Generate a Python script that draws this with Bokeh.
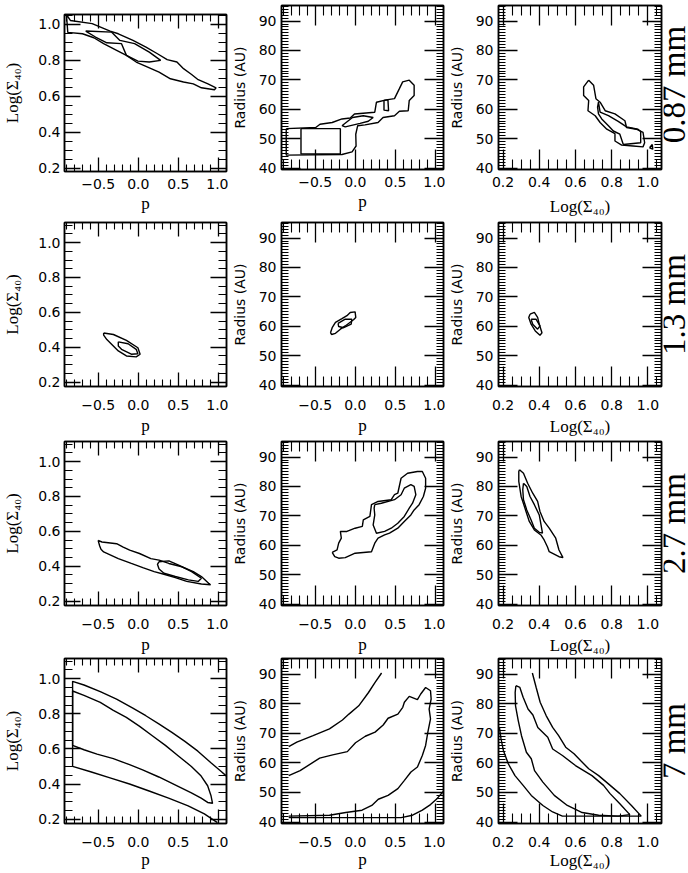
from bokeh.plotting import figure
from bokeh.models import Range1d, LinearAxis, FixedTicker, Spacer
from bokeh.core.properties import value
from bokeh.layouts import row, column
from bokeh.embed import file_html
from bokeh.resources import INLINE

# ---------------- ticks and labels ----------------
P_TICKS = [-0.5, 0.0, 0.5, 1.0]
P_LABELS = ["\u22120.5", "0.0", "0.5", "1.0"]
P_MINOR = [-0.9, -0.8, -0.7, -0.6, -0.4, -0.3, -0.2, -0.1, 0.1, 0.2, 0.3, 0.4,
           0.6, 0.7, 0.8, 0.9, 1.1]
SIG_TICKS = [0.2, 0.4, 0.6, 0.8, 1.0]
SIG_LABELS = ["0.2", "0.4", "0.6", "0.8", "1.0"]
SIG_MINOR = [0.15, 0.25, 0.3, 0.35, 0.45, 0.5, 0.55, 0.65, 0.7, 0.75, 0.85, 0.9,
             0.95, 1.05, 1.1]
R_TICKS = [40, 50, 60, 70, 80, 90]
R_LABELS = ["40", "50", "60", "70", "80", "90"]
R_MINOR = [v for v in range(39, 96)]
WAVELENGTHS = ["0.87 mm", "1.3 mm", "2.7 mm", "7 mm"]
P_TITLE = "p"
SIG_TITLE = "Log(\u03a3\u2084\u2080)"
R_TITLE = "Radius (AU)"

# ---------------- contour data ----------------
# 0.87 mm : p vs Log(Sigma40)
W087_PS_OUT_X = [-0.896, -0.847, -0.575, -0.351, -0.249, -0.066, 0.096, 0.239, 0.36, 0.482, 0.564,
                 0.665, 0.747, 0.869, 0.97, 0.95, 0.787, 0.686, 0.564, 0.401, 0.259, 0.096, -0.026,
                 -0.148, -0.27, -0.432, -0.554, -0.696, -0.879, -0.896]
W087_PS_OUT_Y = [1.055, 1.022, 1.004, 0.963, 0.948, 0.911, 0.874, 0.837, 0.804, 0.791, 0.754,
                 0.722, 0.693, 0.670, 0.648, 0.637, 0.648, 0.670, 0.680, 0.698, 0.735, 0.767, 0.791,
                 0.828, 0.856, 0.893, 0.926, 0.948, 0.956, 1.055]
W087_PS_IN_X = [-0.656, -0.331, -0.229, -0.046, 0.137, 0.279, 0.137, -0.005, -0.148, -0.209, -0.392,
                -0.534, -0.656]
W087_PS_IN_Y = [0.963, 0.957, 0.911, 0.893, 0.846, 0.80, 0.791, 0.796, 0.828, 0.893, 0.898,
                0.930, 0.963]
# 0.87 mm : p vs Radius
W087_PR_OUT_X = [-0.861, -0.493, -0.44, -0.288, -0.166, -0.063, -0.01, 0.243, 0.264, 0.386, 0.489,
                 0.55, 0.591, 0.673, 0.734, 0.734, 0.673, 0.66, 0.55, 0.489, 0.346, 0.284, 0.121,
                 0.03, 0.006, 0.01, -0.04, -0.166, -0.861, -0.861]
W087_PR_OUT_Y = [53.4, 53.8, 54.9, 55.5, 56.7, 57.0, 58.4, 59.0, 62.4, 63.2, 63.6,
                 67.0, 69.3, 69.9, 68.2, 64.7, 63.0, 59.5, 59.3, 57.8, 57.2, 55.5, 54.7,
                 54.4, 51.5, 47.5, 45.5, 44.6, 44.4, 53.4]
W087_PR_INA_X = [-0.677, -0.186, -0.186, -0.677, -0.677]
W087_PR_INA_Y = [53.4, 53.4, 44.8, 44.8, 53.4]
W087_PR_INB_X = [-0.166, -0.035, 0.1, 0.223, 0.162, 0.06, -0.125, -0.166]
W087_PR_INB_Y = [54.4, 57.2, 57.8, 57.2, 55.9, 55.2, 54.0, 54.4]
W087_PR_INC_X = [0.358, 0.407, 0.415, 0.358, 0.358]
W087_PR_INC_Y = [63.0, 63.2, 59.5, 59.7, 63.0]
# 0.87 mm : Log(Sigma40) vs Radius
W087_SR_OUT_X = [0.673, 0.70, 0.713, 0.736, 0.764, 0.818, 0.873, 0.882, 0.936, 0.973, 0.982, 0.973,
                 0.918, 0.855, 0.818, 0.818, 0.773, 0.736, 0.709, 0.669, 0.673, 0.645, 0.645, 0.673]
W087_SR_OUT_Y = [69.9, 68.2, 63.6, 62.4, 59.5, 58.4, 56.1, 53.8, 53.2, 52.1, 48.6, 47.2,
                 47.5, 47.8, 49.2, 51.7, 53.2, 55.5, 57.8, 59.5, 63.0, 64.7, 67.6, 69.9]
W087_SR_IN_X = [0.727, 0.736, 0.782, 0.836, 0.882, 0.945, 0.96, 0.96, 0.864, 0.845, 0.809, 0.782,
                0.745, 0.727, 0.722, 0.727]
W087_SR_IN_Y = [62.4, 59.0, 57.8, 55.9, 54.0, 53.2, 52.4, 48.6, 48.0, 51.5, 52.6, 54.4,
                56.7, 58.4, 60.7, 62.4]
W087_SR_TRI_X = [1.009, 1.024, 1.027, 1.009]
W087_SR_TRI_Y = [46.9, 48.0, 46.4, 46.9]

# 1.3 mm
W13_PS_OUT_X = [-0.432, -0.31, -0.148, -0.005, 0.023, -0.026, -0.148, -0.249, -0.392, -0.432, -0.432]
W13_PS_OUT_Y = [0.482, 0.473, 0.439, 0.397, 0.36, 0.345, 0.35, 0.379, 0.444, 0.469, 0.482]
W13_PS_IN_X = [-0.249, -0.127, -0.026, -0.005, -0.087, -0.209, -0.249, -0.249]
W13_PS_IN_Y = [0.431, 0.42, 0.388, 0.363, 0.36, 0.388, 0.407, 0.431]
W13_PR_OUT_X = [-0.309, -0.288, -0.247, -0.166, -0.104, -0.063, -0.002, 0.006, -0.022, -0.125,
                -0.186, -0.247, -0.296, -0.309]
W13_PR_OUT_Y = [57.8, 59.5, 61.3, 62.6, 63.6, 64.7, 64.9, 63.0, 62.2, 60.1,
                59.0, 57.6, 57.2, 57.8]
W13_PR_IN_X = [-0.215, -0.125, -0.043, -0.051, -0.145, -0.207, -0.215]
W13_PR_IN_Y = [61.0, 62.4, 62.4, 60.7, 59.5, 59.9, 61.0]
W13_SR_OUT_X = [0.349, 0.373, 0.391, 0.40, 0.415, 0.404, 0.378, 0.355, 0.342, 0.349]
W13_SR_OUT_Y = [64.1, 64.7, 63.0, 60.7, 57.8, 56.9, 58.4, 60.7, 63.0, 64.1]
W13_SR_IN_X = [0.355, 0.382, 0.404, 0.391, 0.364, 0.355]
W13_SR_IN_Y = [62.4, 62.4, 60.1, 59.0, 60.7, 62.4]

# 2.7 mm
W27_PS_OUT_X = [-0.501, -0.453, -0.27, -0.188, -0.107, 0.015, 0.157, 0.259, 0.381, 0.543, 0.686,
                0.787, 0.877, 0.901, 0.787, 0.604, 0.462, 0.32, 0.198, 0.056, -0.087, -0.249,
                -0.432, -0.465, -0.481, -0.501]
W27_PS_OUT_Y = [0.548, 0.539, 0.529, 0.51, 0.492, 0.473, 0.444, 0.435, 0.416, 0.397, 0.369,
                0.341, 0.303, 0.294, 0.298, 0.313, 0.335, 0.354, 0.369, 0.392, 0.416, 0.444,
                0.482, 0.497, 0.516, 0.548]
W27_PS_IN_X = [0.259, 0.381, 0.503, 0.665, 0.787, 0.747, 0.625, 0.462, 0.32, 0.259, 0.239, 0.259]
W27_PS_IN_Y = [0.426, 0.431, 0.407, 0.369, 0.331, 0.313, 0.322, 0.341, 0.36, 0.384, 0.411, 0.426]
W27_PR_OUT_X = [-0.288, -0.227, -0.207, -0.174, -0.186, -0.104, -0.002, 0.088, 0.1, 0.182, 0.202,
                0.284, 0.448, 0.489, 0.53, 0.571, 0.652, 0.775, 0.836, 0.877, 0.877, 0.849, 0.796,
                0.734, 0.693, 0.611, 0.53, 0.427, 0.366, 0.284, 0.243, 0.202, -0.002, -0.125,
                -0.207, -0.256, -0.288]
W27_PR_OUT_Y = [57.6, 58.4, 60.7, 62.4, 64.7, 64.7, 65.8, 66.4, 68.6, 69.8, 73.8,
                74.9, 75.5, 77.2, 77.7, 82.8, 84.5, 85.1, 85.1, 82.8, 79.4, 76.6, 73.8,
                72.0, 70.3, 68.1, 65.8, 64.1, 63.5, 62.4, 60.7, 57.8, 57.3, 55.8,
                55.6, 56.1, 57.6]
W27_PR_IN_X = [0.243, 0.325, 0.489, 0.571, 0.591, 0.611, 0.693, 0.734, 0.755, 0.714, 0.673, 0.611,
               0.53, 0.448, 0.366, 0.264, 0.223, 0.243, 0.235, 0.243]
W27_PR_IN_Y = [73.8, 74.3, 75.5, 77.2, 78.3, 79.4, 80.6, 80.0, 77.2, 74.3, 72.6, 69.8,
               67.5, 65.8, 64.7, 64.1, 66.9, 70.3, 72.6, 73.8]
W27_SR_OUT_X = [0.291, 0.313, 0.336, 0.364, 0.391, 0.404, 0.427, 0.455, 0.491, 0.509, 0.531, 0.509,
                0.455, 0.445, 0.427, 0.409, 0.373, 0.345, 0.327, 0.30, 0.287, 0.287, 0.291]
W27_SR_OUT_Y = [85.7, 84.5, 81.1, 77.7, 74.9, 71.5, 68.1, 65.8, 62.4, 58.4, 55.8, 56.1,
                57.8, 59.5, 61.8, 63.5, 65.2, 68.1, 71.5, 76.6, 81.7, 85.1, 85.7]
W27_SR_IN_X = [0.313, 0.331, 0.349, 0.373, 0.40, 0.418, 0.40, 0.373, 0.355, 0.331, 0.313, 0.309, 0.313]
W27_SR_IN_Y = [81.1, 80.0, 76.6, 73.8, 70.3, 64.1, 64.4, 65.8, 68.6, 72.0, 75.5, 78.9, 81.1]

# 7 mm
W7_PS_OUT_X = [1.1, 1.027, 0.906, 0.743, 0.581, 0.419, 0.256, 0.094, -0.068, -0.271, -0.474, -0.677,
               -0.819, -0.819, -0.595, -0.352, -0.109, 0.135, 0.378, 0.622, 0.824, 0.987]
W7_PS_OUT_Y = [0.445, 0.474, 0.521, 0.587, 0.643, 0.694, 0.743, 0.789, 0.832, 0.883, 0.926, 0.964,
               0.985, 0.50, 0.47, 0.435, 0.40, 0.36, 0.32, 0.275, 0.23, 0.18]
W7_PS_IN_X = [-0.819, -0.677, -0.474, -0.311, -0.149, 0.013, 0.175, 0.338, 0.5, 0.662, 0.784, 0.865,
              0.906, 0.926, 0.865, 0.784, 0.662, 0.459, 0.256, 0.054, -0.109, -0.311, -0.514,
              -0.677, -0.819, -0.819]
W7_PS_IN_Y = [0.93, 0.905, 0.865, 0.82, 0.78, 0.73, 0.675, 0.62, 0.56, 0.50, 0.445, 0.39,
              0.335, 0.29, 0.295, 0.32, 0.35, 0.395, 0.44, 0.48, 0.51, 0.545, 0.57,
              0.595, 0.62, 0.93]
W7_PR_A_X = [-0.83, -0.729, -0.526, -0.322, -0.16, -0.079, 0.043, 0.165, 0.247, 0.328]
W7_PR_A_Y = [65.5, 67.0, 69.2, 71.5, 74.5, 76.5, 79.3, 83.8, 87.2, 90.4]
W7_PR_B_X = [-0.83, -0.688, -0.444, -0.282, -0.099, 0.003, 0.125, 0.247, 0.348, 0.409, 0.531, 0.592,
             0.612, 0.673, 0.775, 0.816, 0.877, 0.938, 0.946, 0.921, 0.938, 0.905, 0.877, 0.836,
             0.775, 0.694, 0.613, 0.531, 0.409, 0.287, 0.206, 0.084, -0.119, -0.322, -0.83]
W7_PR_B_Y = [55.7, 57.4, 61.6, 62.7, 63.8, 66.8, 69.0, 70.4, 72.8, 75.1, 76.5, 78.8,
             80.5, 82.5, 81.4, 83.3, 85.5, 84.4, 81.6, 78.2, 74.9, 70.4, 65.9, 62.5,
             58.6, 56.9, 54.1, 51.3, 49.0, 47.7, 45.6, 44.0, 43.2, 42.3, 42.0]
W7_PR_C_X = [-0.83, 0.572, 0.714, 0.836, 0.938, 1.019, 1.1]
W7_PR_C_Y = [41.5, 41.5, 42.3, 44.0, 45.9, 47.9, 50.4]
W7_SR_OUT_X = [0.362, 0.383, 0.405, 0.438, 0.474, 0.507, 0.546, 0.592, 0.628, 0.673, 0.728, 0.782,
               0.845, 0.909, 0.963, 0.528, 0.474, 0.42, 0.356, 0.311, 0.266, 0.229, 0.202, 0.189, 0.18]
W7_SR_OUT_Y = [90.4, 85.5, 80.5, 76.0, 72.0, 69.2, 65.3, 63.1, 60.8, 58.0, 55.7, 52.9,
               49.6, 45.6, 42.0, 42.0, 43.4, 45.6, 49.0, 52.4, 55.7, 59.7, 64.2, 68.1, 72.0]
W7_SR_IN_X = [0.271, 0.293, 0.311, 0.338, 0.365, 0.392, 0.447, 0.474, 0.528, 0.6, 0.691, 0.755,
              0.791, 0.845, 0.9, 0.836, 0.728, 0.637, 0.555, 0.483, 0.42, 0.374, 0.356, 0.329,
              0.302, 0.284, 0.269, 0.267, 0.271]
W7_SR_IN_Y = [86.1, 85.5, 82.2, 78.2, 76.2, 72.0, 68.7, 64.7, 62.5, 59.1, 55.7, 52.4,
              49.6, 46.2, 42.5, 42.0, 42.3, 43.2, 45.6, 49.0, 53.5, 57.4, 61.4, 63.6,
              69.2, 74.3, 79.3, 83.8, 86.1]

PANELS = [
    [([W087_PS_OUT_X, W087_PS_IN_X], [W087_PS_OUT_Y, W087_PS_IN_Y]),
     ([W087_PR_OUT_X, W087_PR_INA_X, W087_PR_INB_X, W087_PR_INC_X],
      [W087_PR_OUT_Y, W087_PR_INA_Y, W087_PR_INB_Y, W087_PR_INC_Y]),
     ([W087_SR_OUT_X, W087_SR_IN_X, W087_SR_TRI_X], [W087_SR_OUT_Y, W087_SR_IN_Y, W087_SR_TRI_Y])],
    [([W13_PS_OUT_X, W13_PS_IN_X], [W13_PS_OUT_Y, W13_PS_IN_Y]),
     ([W13_PR_OUT_X, W13_PR_IN_X], [W13_PR_OUT_Y, W13_PR_IN_Y]),
     ([W13_SR_OUT_X, W13_SR_IN_X], [W13_SR_OUT_Y, W13_SR_IN_Y])],
    [([W27_PS_OUT_X, W27_PS_IN_X], [W27_PS_OUT_Y, W27_PS_IN_Y]),
     ([W27_PR_OUT_X, W27_PR_IN_X], [W27_PR_OUT_Y, W27_PR_IN_Y]),
     ([W27_SR_OUT_X, W27_SR_IN_X], [W27_SR_OUT_Y, W27_SR_IN_Y])],
    [([W7_PS_OUT_X, W7_PS_IN_X], [W7_PS_OUT_Y, W7_PS_IN_Y]),
     ([W7_PR_A_X, W7_PR_B_X, W7_PR_C_X], [W7_PR_A_Y, W7_PR_B_Y, W7_PR_C_Y]),
     ([W7_SR_OUT_X, W7_SR_IN_X], [W7_SR_OUT_Y, W7_SR_IN_Y])],
]

# ---------------- layout / style ----------------
ROW_H = [218, 220, 219, 215]
ROW_TOP = [5, 4, 3, 1]
ROW_BOT = [47, 50, 50, 48]
FIRST_PANEL_DROP = 9
XTICK_SO = [7, 13, 13, 13]
P_TITLE_SO = [2, 3, 3, 0]
SIG_XTITLE_SO = [7, 4, 4, 1]
LAB_YMID = [0.518, 0.5, 0.5, 0.5]
LAB_X = 0.43
LAB_SIZE = "33px"
COL_W = [228, 217, 218]
COL_L = [60, 50, 50]
COL_R = [2, 2, 2]
LAB_W = 25
P_RANGE = (-0.92, 1.1)
SIGX_RANGE = (0.175, 1.075)
SIGY_RANGE_ROW1 = (0.183, 1.055)
SIGY_RANGE = (0.175, 1.115)
R_RANGE = (39.5, 95.3)
TICK_FONT = "DejaVu Sans"
SERIF = "Liberation Serif"


def add_axis(fig, side, ticks, labels, minor, major_in, minor_in, shown,
             title=None, title_font=SERIF, title_size="17px", tick_standoff=4, title_standoff=4):
    ax = LinearAxis(ticker=FixedTicker(ticks=ticks, minor_ticks=minor),
                    major_tick_in=major_in, major_tick_out=0,
                    minor_tick_in=minor_in, minor_tick_out=0,
                    axis_line_color="black", axis_line_width=1.5,
                    major_tick_line_color="black", major_tick_line_width=1.3,
                    minor_tick_line_color="black", minor_tick_line_width=1.1)
    if shown:
        ax.major_label_overrides = dict(zip(ticks, labels))
        ax.major_label_text_font = TICK_FONT
        ax.major_label_text_font_size = "14px"
        ax.major_label_text_color = "black"
        ax.major_label_standoff = tick_standoff
        ax.axis_label = title
        ax.axis_label_text_font = title_font
        ax.axis_label_text_font_size = title_size
        ax.axis_label_text_font_style = "normal"
        ax.axis_label_text_color = "black"
        ax.axis_label_standoff = title_standoff
    else:
        ax.major_label_overrides = {t: "" for t in ticks}
        ax.major_label_text_font_size = "0px"
        ax.major_label_standoff = 0
    fig.add_layout(ax, side)


def make_panel(r, c, height):
    if c == 0:
        xr, yr = P_RANGE, (SIGY_RANGE_ROW1 if r == 0 else SIGY_RANGE)
    elif c == 1:
        xr, yr = P_RANGE, R_RANGE
    else:
        xr, yr = SIGX_RANGE, R_RANGE
    f = figure(width=COL_W[c], height=height, x_range=Range1d(*xr), y_range=Range1d(*yr),
               output_backend="svg", toolbar_location=None,
               x_axis_location=None, y_axis_location=None,
               min_border_left=COL_L[c], min_border_right=COL_R[c],
               min_border_top=ROW_TOP[r], min_border_bottom=ROW_BOT[r],
               background_fill_color="white", border_fill_color="white",
               outline_line_color="black", outline_line_width=1.5)
    f.grid.visible = False
    if c == 0:
        xt, xl, xm, xlen, xmin, xtitle = P_TICKS, P_LABELS, P_MINOR, 14, 7, P_TITLE
        yt, yl, ym, ylen, ymin, ytitle = SIG_TICKS, SIG_LABELS, SIG_MINOR, 16, 8, SIG_TITLE
        ytitle_font, ytitle_size, ytick_so, ytitle_so = SERIF, "17px", 4, 13
        xtitle_so = P_TITLE_SO[r]
    else:
        if c == 1:
            xt, xl, xm, xtitle = P_TICKS, P_LABELS, P_MINOR, P_TITLE
            xtitle_so = P_TITLE_SO[r]
        else:
            xt, xl, xm, xtitle = SIG_TICKS, SIG_LABELS, SIG_MINOR, SIG_TITLE
            xtitle_so = SIG_XTITLE_SO[r]
        xlen, xmin = 20, 10
        yt, yl, ym, ylen, ymin, ytitle = R_TICKS, R_LABELS, R_MINOR, 19, 7, R_TITLE
        ytitle_font, ytitle_size, ytick_so, ytitle_so = TICK_FONT, "14px", 5, 8
    add_axis(f, "below", xt, xl, xm, xlen, xmin, True, xtitle, SERIF, "17px",
             XTICK_SO[r], xtitle_so)
    add_axis(f, "above", xt, xl, xm, xlen, xmin, False)
    add_axis(f, "left", yt, yl, ym, ylen, ymin, True, ytitle, ytitle_font, ytitle_size,
             ytick_so, ytitle_so)
    add_axis(f, "right", yt, yl, ym, ylen, ymin, False)

    xs, ys = PANELS[r][c]
    f.multi_line(xs=xs, ys=ys, line_color="black", line_width=1.4)
    return f


def make_label(r):
    f = figure(width=LAB_W, height=ROW_H[r], x_range=Range1d(0, 1), y_range=Range1d(0, 1),
               output_backend="svg", toolbar_location=None,
               x_axis_location=None, y_axis_location=None, min_border=0,
               outline_line_color=None, background_fill_color="white",
               border_fill_color="white")
    f.grid.visible = False
    f.text(x=[LAB_X], y=[LAB_YMID[r]], text=[WAVELENGTHS[r]], angle=90, angle_units="deg",
           text_align="center", text_baseline="middle",
           text_font=value(SERIF), text_font_size=value(LAB_SIZE), text_color="black")
    return f


rows = []
for r in range(4):
    children = []
    for c in range(3):
        if r == 0 and c == 0:
            first = make_panel(r, c, ROW_H[r] - FIRST_PANEL_DROP)
            children.append(column(Spacer(width=COL_W[c], height=FIRST_PANEL_DROP), first,
                                   spacing=0))
        else:
            children.append(make_panel(r, c, ROW_H[r]))
    children.append(make_label(r))
    rows.append(row(*children, spacing=0))
p = column(*rows, spacing=0)

open("out.html", "w").write(file_html(p, INLINE))
